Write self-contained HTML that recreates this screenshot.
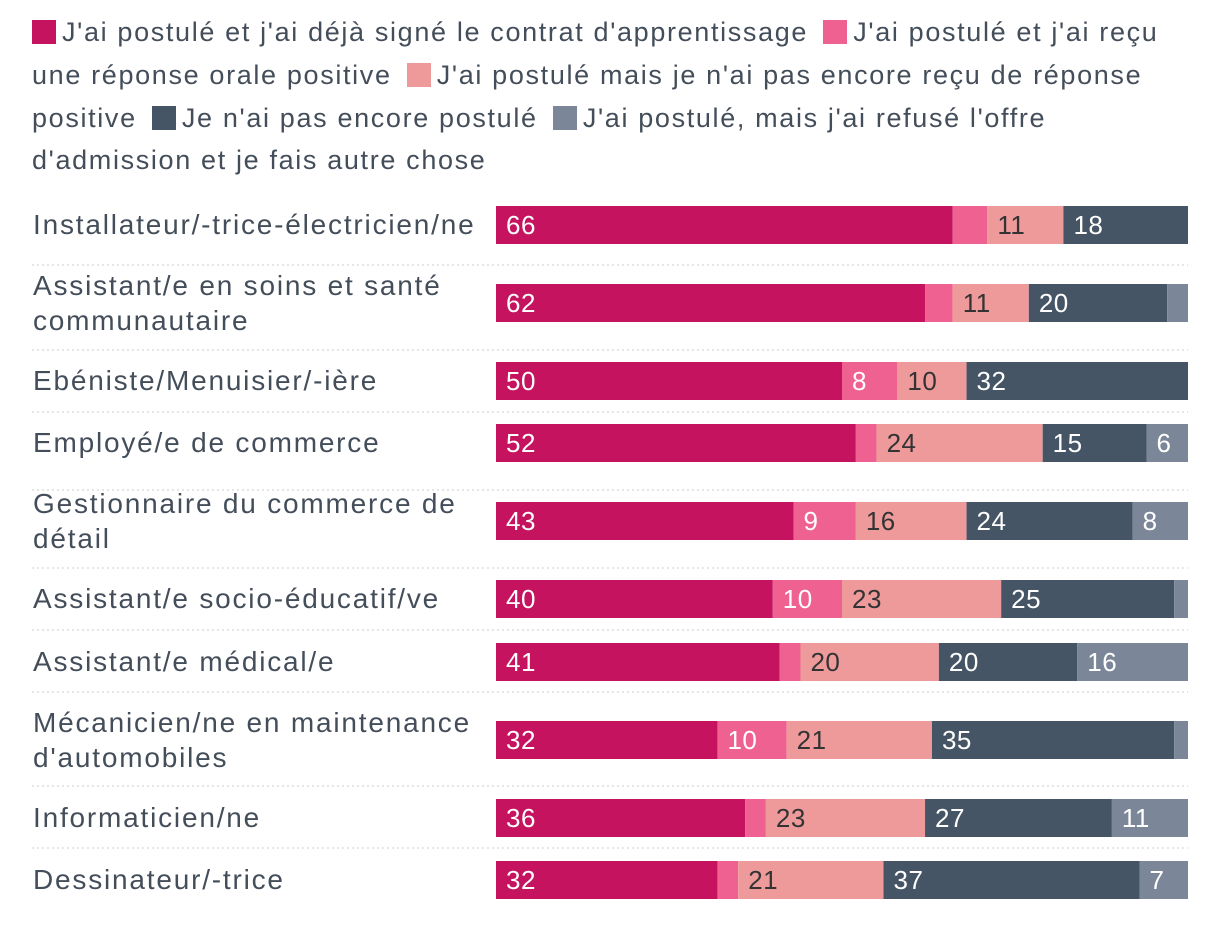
<!DOCTYPE html>
<html><head><meta charset="utf-8">
<style>
body{margin:0;background:#fff;font-family:"Liberation Sans",sans-serif;color:#444e5a;}
#wrap{position:relative;width:1220px;height:952px;overflow:hidden;}
.lg{position:absolute;left:32px;font-size:27px;letter-spacing:1.65px;white-space:nowrap;line-height:30px;}
.sw{display:inline-block;width:24px;height:24px;vertical-align:-3px;margin-right:6px;}
</style></head><body>
<div id="wrap">
<div>
<div class="lg" style="top:17px"><span class="sw" style="background:#c6135f"></span>J'ai postulé et j'ai déjà signé le contrat d'apprentissage <span class="sw" style="background:#ef6190;margin-left:6px"></span>J'ai postulé et j'ai reçu</div>
<div class="lg" style="top:60px">une réponse orale positive <span class="sw" style="background:#ee9a9a;margin-left:6px"></span>J'ai postulé mais je n'ai pas encore reçu de réponse</div>
<div class="lg" style="top:103px">positive <span class="sw" style="background:#455565;margin-left:6px"></span>Je n'ai pas encore postulé <span class="sw" style="background:#7b8798;margin-left:6px"></span>J'ai postulé, mais j'ai refusé l'offre</div>
<div class="lg" style="top:145px">d'admission et je fais autre chose</div>
</div>
<svg id="svg" width="1220" height="952" style="position:absolute;left:0;top:0"></svg>
</div>
<script>
const categories=[["Installateur/-trice-électricien/ne"],["Assistant/e en soins et santé","communautaire"],["Ebéniste/Menuisier/-ière"],["Employé/e de commerce"],["Gestionnaire du commerce de","détail"],["Assistant/e socio-éducatif/ve"],["Assistant/e médical/e"],["Mécanicien/ne en maintenance","d'automobiles"],["Informaticien/ne"],["Dessinateur/-trice"]];
const signed=[66,62,50,52,43,40,41,32,36,32];
const oral=[5,4,8,3,9,10,3,10,3,3];
const pending=[11,11,10,24,16,23,20,21,23,21];
const notApplied=[18,20,32,15,24,25,20,35,27,37];
const refused=[0,3,0,6,8,2,16,2,11,7];
const series=[signed,oral,pending,notApplied,refused];
const seriesNames=["signed","oral","pending","not-applied","refused"];
const colors=["#c6135f","#ef6190","#ee9a9a","#455565","#7b8798"];
const textColors=["#fff","#fff","#333","#fff","#fff"];
const barTops=[206,284,362,424,502,580,643,721,799,861];
const seps=[265,350,412,490,568,630,692,786,848];
const x0=496,x1=1188,bh=38;
function xs(v){return v/100*(x1-x0);}
const svg=document.getElementById('svg');
const NS="http://www.w3.org/2000/svg";
seps.forEach(y=>{const l=document.createElementNS(NS,'line');


l.setAttribute('x1',32);l.setAttribute('x2',1188);l.setAttribute('y1',y);l.setAttribute('y2',y);
l.setAttribute('stroke','#ccc');l.setAttribute('stroke-dasharray','2,3');svg.appendChild(l);});
categories.forEach((cat,i)=>{
 const top=barTops[i],cy=top+bh/2;
 const t=document.createElementNS(NS,'text');
 
 
 t.setAttribute('x',33);t.setAttribute('font-size','28');t.setAttribute('letter-spacing','1.8');t.setAttribute('fill','#444e5a');
 const y0=cat.length>1?cy-8:cy+9;
 cat.forEach((ln,j)=>{const s=document.createElementNS(NS,'tspan');s.setAttribute('x',33);s.setAttribute('y',y0+j*35);s.textContent=ln;t.appendChild(s);});
 svg.appendChild(t);
 let acc=0;
 series.forEach((ser,k)=>{const v=ser[i];if(!v)return;
  const r=document.createElementNS(NS,'rect');
  
  
  r.setAttribute('x',x0+xs(acc));r.setAttribute('y',top);r.setAttribute('width',xs(v));r.setAttribute('height',bh);r.setAttribute('fill',colors[k]);
  svg.appendChild(r);
  if(v>=6){const vt=document.createElementNS(NS,'text');
   
   
   vt.setAttribute('x',x0+xs(acc)+10);vt.setAttribute('y',cy+9);vt.setAttribute('font-size','26');vt.setAttribute('letter-spacing','0.5');vt.setAttribute('fill',textColors[k]);vt.textContent=v;svg.appendChild(vt);}
  acc+=v;});
});
</script>
</body></html>
